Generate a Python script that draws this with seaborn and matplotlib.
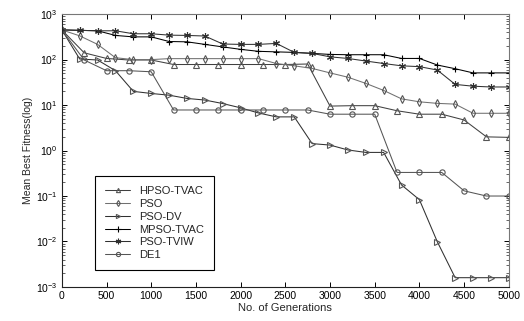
import numpy as np
import pandas as pd
import matplotlib
matplotlib.use("Agg")
import matplotlib.pyplot as plt
import seaborn as sns
from matplotlib.ticker import LogLocator, FixedLocator, NullFormatter

# ---------------- data ----------------
x250 = [0, 250, 500, 750, 1000, 1250, 1500, 1750, 2000, 2250, 2500,
        2750, 3000, 3250, 3500, 3750, 4000, 4250, 4500, 4750, 5000]
x200 = [0, 200, 400, 600, 800, 1000, 1200, 1400, 1600, 1800, 2000, 2200, 2400,
        2600, 2800, 3000, 3200, 3400, 3600, 3800, 4000, 4200, 4400, 4600, 4800, 5000]

hpso_tvac = [450, 141, 106, 98, 98, 78, 78, 78, 78, 78, 78,
             80, 9.5, 9.7, 9.7, 7.5, 6.3, 6.3, 4.7, 2.0, 1.95]
pso = [450, 333, 216, 110, 100, 100, 105, 105, 105, 105, 105, 105, 82,
       73, 64, 51, 41, 30, 21, 13.7, 11.8, 10.9, 10.5, 6.6, 6.6, 6.6]
pso_dv = [450, 103, 98, 57, 20, 18, 16.5, 14, 12.9, 10.8, 8.7, 6.7, 5.5,
          5.5, 1.42, 1.32, 1.03, 0.91, 0.91, 0.175, 0.083, 0.0099, 0.0016, 0.0016, 0.0016, 0.0016]
mpso_tvac = [450, 440, 430, 340, 316, 316, 250, 246, 216, 190, 168, 152, 148,
             144, 137, 130, 128, 128, 128, 106, 106, 76, 63, 51, 51, 51]
pso_tviw = [450, 440, 430, 430, 370, 370, 345, 340, 330, 220, 216, 216, 227,
            144, 137, 115, 106, 93, 82, 73, 70, 59, 28.5, 26, 25, 25]
de1 = [450, 98, 57, 57, 54, 7.8, 7.8, 7.8, 7.8, 7.8, 7.8,
       7.8, 6.3, 6.3, 6.3, 0.33, 0.33, 0.33, 0.13, 0.1, 0.1]

series = [
    ("HPSO-TVAC", x250, hpso_tvac, "^", "#404040"),
    ("PSO", x200, pso, "d", "#707070"),
    ("PSO-DV", x200, pso_dv, ">", "#303030"),
    ("MPSO-TVAC", x200, mpso_tvac, "+", "#000000"),
    ("PSO-TVIW", x200, pso_tviw, (6, 2, 0), "#303030"),
    ("DE1", x250, de1, "o", "#555555"),
]

xticks = [0, 500, 1000, 1500, 2000, 2500, 3000, 3500, 4000, 4500, 5000]
yticks = [1e-3, 1e-2, 1e-1, 1e0, 1e1, 1e2, 1e3]
ytick_labels = [r"$10^{-3}$", r"$10^{-2}$", r"$10^{-1}$", r"$10^{0}$",
                r"$10^{1}$", r"$10^{2}$", r"$10^{3}$"]

# ---------------- style ----------------
sns.set_style("ticks")
plt.rcParams["font.family"] = ["Liberation Sans", "DejaVu Sans"]
plt.rcParams["mathtext.default"] = "regular"

fig = plt.figure(figsize=(5.24, 3.21), dpi=100)
ax = fig.add_axes([0.118, 0.106, 0.853, 0.850])

for name, xs, ys, mk, col in series:
    df = pd.DataFrame({"gen": xs, "fit": ys})
    hollow = mk in ("^", "d", ">", "o")
    sns.lineplot(data=df, x="gen", y="fit", ax=ax, label=name, color=col,
                 linewidth=0.75, marker=mk, markersize=3.8 if hollow else 5,
                 markerfacecolor="none" if hollow else col,
                 markeredgecolor="#555555" if hollow else col,
                 markeredgewidth=0.8, sort=False, estimator=None)

ax.set_yscale("log")
ax.set_xlim(0, 5000)
ax.set_ylim(1e-3, 1e3)
ax.set_xticks(xticks)
ax.set_xticklabels([str(t) for t in xticks])
ax.yaxis.set_major_locator(FixedLocator(yticks))
ax.set_yticklabels(ytick_labels)
ax.yaxis.set_minor_locator(LogLocator(base=10, subs=np.arange(2, 10), numticks=20))
ax.yaxis.set_minor_formatter(NullFormatter())

ax.tick_params(axis="both", which="major", direction="in", length=3.5, width=0.7,
               top=True, right=True, labelsize=7.5, pad=3, colors="black")
ax.tick_params(axis="y", which="minor", direction="in", length=2, width=0.5,
               left=True, right=True)
for s in ax.spines.values():
    s.set_linewidth(0.8)
    s.set_color("#222222")
ax.spines["top"].set_color("#777777")
ax.spines["right"].set_color("#777777")

ax.set_xlabel("No. of Generations", fontsize=8, labelpad=1)
ax.set_ylabel("Mean Best Fitness(log)", fontsize=7.5, labelpad=2)

leg = ax.legend(loc="lower left", bbox_to_anchor=(0.074, 0.062), fontsize=8,
                frameon=True, fancybox=False, edgecolor="black", framealpha=1,
                handlelength=2.3, handletextpad=0.8, labelspacing=0.25,
                borderpad=0.9, borderaxespad=0, markerscale=0.8)
leg.get_frame().set_linewidth(0.8)

fig.savefig("out.png", dpi=100)
